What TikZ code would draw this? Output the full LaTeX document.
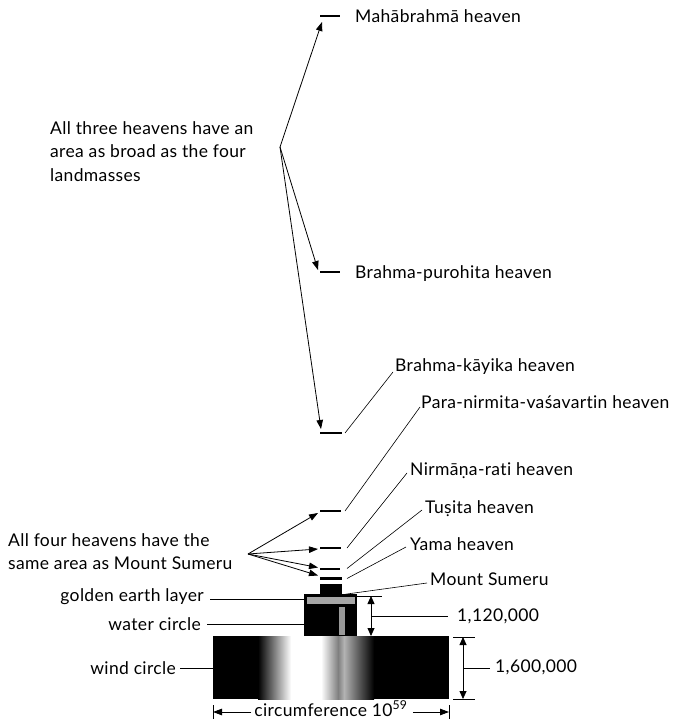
\documentclass[tikz,border=0pt]{standalone}
\usepackage{fontspec}
\setmainfont{Lato}[LetterSpace=2.0, Ligatures=NoCommon]
\usetikzlibrary{arrows.meta}
\begin{document}
\begin{tikzpicture}[x=1pt,y=-1pt,
  font=\fontsize{17.5}{23.5}\selectfont,
  lbl/.style={inner sep=0pt, anchor=base west},
  rlbl/.style={inner sep=0pt, anchor=base east},
  lead/.style={line width=0.6pt},
  arr/.style={line width=0.8pt, -{Triangle[length=9pt,width=6.5pt]}},
  dimarr/.style={line width=0.8pt, {Triangle[length=8pt,width=7pt]}-{Triangle[length=8pt,width=7pt]}},
  tierbar/.style={fill=black, inner sep=0pt, outer sep=0pt, minimum height=2pt}]
\useasboundingbox (0,0) rectangle (672,719);

% ---- heaven levels (short bars) ----
\node[tierbar, minimum width=20pt, anchor=west] (maha) at (320,16) {};
\node[tierbar, minimum width=20pt, anchor=west] (puro) at (320,272) {};
\node[tierbar, minimum width=22pt, anchor=west] (kaya) at (320,433) {};
\node[tierbar, minimum width=21pt, anchor=west] (para) at (320,511) {};
\node[tierbar, minimum width=21pt, anchor=west] (nirm) at (320,548) {};
\node[tierbar, minimum width=20pt, anchor=west] (tusi) at (320,568.5) {};
\node[tierbar, minimum width=22pt, minimum height=2.5pt, anchor=west] (yama) at (320,578.5) {};

% ---- Mount Sumeru, water circle, wind circle ----
\node[fill=black, inner sep=0pt, minimum width=22pt, minimum height=10pt, anchor=north west] (sumeru) at (320,584) {};
\node[fill=black, inner sep=0pt, minimum width=53pt, minimum height=42pt, anchor=north west] (water) at (304,594) {};
\node[fill=black, inner sep=0pt, minimum width=236pt, minimum height=63pt, anchor=north west] (wind) at (213,636) {};
% highlight on the wind circle
\shade[left color=black, right color=white] (258,636) rectangle (291,699);
\fill[white] (291,636) rectangle (321,699);
\shade[left color=white, right color=black!50] (321,636) rectangle (338,699);
\shade[left color=black!50, right color=black!30] (338,636) rectangle (344,699);
\shade[left color=black!30, right color=black] (344,636) rectangle (374,699);
% golden earth layer and the shaft inside the water circle
\fill[black!35] (307,597) rectangle (355,604);
\fill[black!40] (339,607) rectangle (345,635);

% ---- labels ----
\node[lbl] (mahaL) at (355,23) {Mahābrahmā heaven};
\node[lbl] (puroL) at (355,278) {Brahma-purohita heaven};
\node[lbl] (kayaL) at (395,371) {Brahma-kāyika heaven};
\node[lbl] (paraL) at (421,408) {Para-nirmita-vaśavartin heaven};
\node[lbl] (nirmL) at (410,475) {Nirmāṇa-rati heaven};
\node[lbl] (tusiL) at (425,513) {Tuṣita heaven};
\node[lbl] (yamaL) at (410,550) {Yama heaven};
\node[lbl] (sumeruL) at (430,585) {Mount Sumeru};
\node[rlbl] (goldL) at (204,601) {golden earth layer};
\node[rlbl] (waterL) at (201,630) {water circle};
\node[rlbl] (windL) at (176,674) {wind circle};
\node[lbl] (h1L) at (457,621) {1,120,000};
\node[lbl] (h2L) at (495,672) {1,600,000};
\node[inner sep=0pt, anchor=base] (circL) at (331,716) {circumference 10\textsuperscript{59}};
\node[inner sep=0pt, anchor=north west, align=left] (threeL) at (50,121)
  {All three heavens have an\\area as broad as the four\\landmasses};
\node[inner sep=0pt, anchor=north west, align=left] (fourL) at (8,533)
  {All four heavens have the\\same area as Mount Sumeru};

% ---- arrows from the notes to the heavens ----
\coordinate (threeP) at (280,147);
\draw[arr] (threeP) -- ([shift={(2,6)}]maha.west);
\draw[arr] (threeP) -- ([shift={(-2,-2)}]puro.west);
\draw[arr] (threeP) -- ([shift={(1,-4)}]kaya.west);
\coordinate (fourP) at (248,554);
\draw[arr] (fourP) -- ([shift={(-2,2)}]para.west);
\draw[arr] (fourP) -- ([shift={(-2,1)}]nirm.west);
\draw[arr] (fourP) -- ([shift={(-2,-1)}]tusi.west);
\draw[arr] (fourP) -- ([shift={(-2,-3)}]yama.west);

% ---- leader lines ----
\draw[lead] ([xshift=3pt]kaya.east) -- ([shift={(-2,1)}]kayaL.base west);
\draw[lead] ([xshift=4pt]para.east) -- ([shift={(-1,-1)}]paraL.base west);
\draw[lead] ([xshift=6pt]nirm.east) -- ([shift={(-3,-2)}]nirmL.base west);
\draw[lead] ([xshift=7pt]tusi.east) -- ([shift={(-3,-3)}]tusiL.base west);
\draw[lead] ([xshift=5pt]yama.east) -- ([shift={(-4,-3)}]yamaL.base west);
\draw[lead] ([shift={(3,5)}]sumeru.east) -- ([shift={(-3,-2)}]sumeruL.base west);
\draw[lead] ([shift={(6,-2)}]goldL.base east) -- (water.west |- 0,599);
\draw[lead] ([shift={(6,-6)}]waterL.base east) -- (water.west |- 0,624);
\draw[lead] ([shift={(4,-6)}]windL.base east) -- (wind.west |- 0,668);

% ---- dimension: height of the water circle ----
\coordinate (d1t) at (371,596);
\coordinate (d1b) at (371,636);
\draw[lead] (water.east |- d1t) -- (382,596);
\draw[dimarr] (d1t) -- (d1b);
\draw[lead] (371,616) -- ([shift={(-9,-5)}]h1L.base west);

% ---- dimension: height of the wind circle ----
\coordinate (d2t) at (463,637);
\coordinate (d2b) at (463,699);
\draw[lead] (453,637) -- (475,637);
\draw[lead] (453,699) -- (475,699);
\draw[dimarr] (d2t) -- (d2b);
\draw[lead] (463,668) -- ([shift={(-5,-4)}]h2L.base west);

% ---- circumference ----
\coordinate (cl) at (213,712);
\coordinate (cr) at (449,712);
\draw[lead] (213,705) -- (213,719);
\draw[lead] (449,705) -- (449,719);
\draw[arr] ([shift={(-3,-4)}]circL.base west) -- (cl);
\draw[arr] ([shift={(5,-4)}]circL.base east) -- (cr);
\end{tikzpicture}
\end{document}
